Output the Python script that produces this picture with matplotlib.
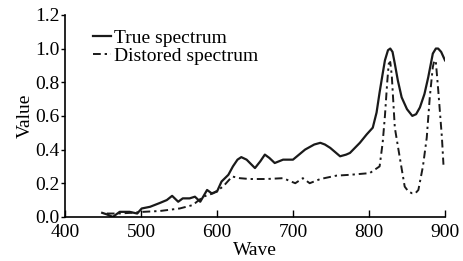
import numpy as np
import matplotlib.pyplot as plt

plt.rcParams['font.family'] = ['Liberation Serif', 'DejaVu Serif']

# 실제 스펙트럼
wave_true = [449, 455, 463, 472, 485, 495, 501, 512, 525, 534, 541, 549, 555, 564,
             571, 578, 587, 593, 600, 606, 615, 621, 627, 632, 639, 650, 657, 663,
             669, 676, 687, 700, 716, 728, 736, 742, 749, 762, 770, 775, 788, 797,
             805, 810, 814, 818, 821, 825, 828, 831, 834, 838, 843, 850, 857, 862,
             867, 873, 878, 884, 888, 891, 895, 900]
val_true = [0.024, 0.015, 0.0, 0.03, 0.03, 0.02, 0.05, 0.06, 0.083, 0.10, 0.125, 0.09,
            0.11, 0.11, 0.12, 0.09, 0.16, 0.14, 0.15, 0.21, 0.25, 0.30, 0.34, 0.355,
            0.34, 0.29, 0.33, 0.37, 0.35, 0.32, 0.34, 0.34, 0.40, 0.43, 0.44, 0.43,
            0.41, 0.36, 0.37, 0.38, 0.44, 0.49, 0.53, 0.62, 0.74, 0.85, 0.93, 0.99,
            1.00, 0.98, 0.91, 0.81, 0.71, 0.64, 0.60, 0.61, 0.65, 0.73, 0.83, 0.97,
            1.00, 1.00, 0.98, 0.93]

# 왜곡된 스펙트럼
wave_dist = [455, 470, 490, 503, 525, 551, 568, 582, 595, 608, 620, 630, 643, 665,
             687, 703, 713, 722, 736, 757, 775, 801, 814, 818, 821, 824, 826, 828,
             830, 834, 841, 847, 852, 857, 861, 865, 871, 876, 880, 884, 886, 888,
             891, 896, 898]
val_dist = [0.02, 0.02, 0.025, 0.03, 0.035, 0.05, 0.07, 0.12, 0.14, 0.18, 0.24, 0.23,
            0.225, 0.225, 0.23, 0.20, 0.23, 0.20, 0.225, 0.245, 0.25, 0.26, 0.30, 0.44,
            0.60, 0.80, 0.91, 0.92, 0.84, 0.53, 0.34, 0.18, 0.15, 0.14, 0.14, 0.16,
            0.30, 0.47, 0.71, 0.89, 0.93, 0.92, 0.76, 0.47, 0.31]

fig = plt.figure(figsize=(4.64, 2.61), dpi=100)
ax = fig.add_axes([0.140, 0.169, 0.819, 0.774])

ax.plot(wave_true, val_true, color='#1a1a1a', lw=1.6, label='True spectrum')
ax.plot(wave_dist, val_dist, color='#1a1a1a', lw=1.4, dashes=(4, 2, 1.2, 2),
        label='Distored spectrum')

ax.set_xlim(400, 900)
ax.set_ylim(0, 1.2)
ax.set_xticks(np.arange(400, 901, 100))
ax.set_yticks(np.arange(0, 1.21, 0.2))
ax.set_yticklabels([f'{v:.1f}' for v in np.arange(0, 1.21, 0.2)])

for s in ['top', 'right']:
    ax.spines[s].set_visible(False)
ax.spines['left'].set_linewidth(1.2)
ax.spines['bottom'].set_linewidth(1.2)
ax.tick_params(axis='x', direction='in', length=5, width=1, labelsize=14, pad=5)
ax.tick_params(axis='y', direction='out', length=3, width=1, labelsize=14, pad=1)

ax.set_xlabel('Wave', fontsize=14, labelpad=1)
ax.set_ylabel('Value', fontsize=14, labelpad=1)

ax.legend(loc='upper left', bbox_to_anchor=(0.048, 0.975), frameon=False, fontsize=14,
          handlelength=0.95, handletextpad=0.15, labelspacing=0.0, borderpad=0)

plt.savefig('out.png', dpi=100)
